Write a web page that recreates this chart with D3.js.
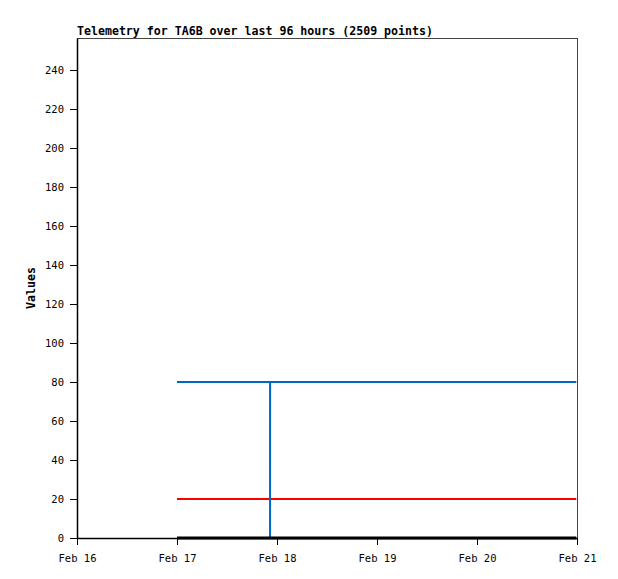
<!DOCTYPE html>
<html><head><meta charset="utf-8">
<script src="https://cdn.jsdelivr.net/npm/d3@7"></script>
<style>body{margin:0;background:#fff;} svg{display:block;}</style>
</head><body>
<script>
const title = "Telemetry for TA6B over last 96 hours (2509 points)";
const yLabel = "Values";
const xTickDates = ["2021-02-16","2021-02-17","2021-02-18","2021-02-19","2021-02-20","2021-02-21"];
const yTickValues = [0,20,40,60,80,100,120,140,160,180,200,220,240];
const blueTimes = ["2021-02-17T00:00","2021-02-17T22:20","2021-02-17T22:20","2021-02-17T22:21","2021-02-20T23:50"];
const blueValues = [80,80,0,80,80];
const redTimes = ["2021-02-17T00:00","2021-02-20T23:50"];
const redValues = [20,20];
const blackTimes = ["2021-02-17T00:00","2021-02-20T23:50"];
const blackValues = [0,0];

const W=618,H=579, L=77,R=577,T=38,B=538;
const parse = d3.isoParse;
const x = d3.scaleTime().domain([parse("2021-02-16T00:00"), parse("2021-02-21T00:00")]).range([L,R]);
const y = d3.scaleLinear().domain([0,256.4]).range([B,T]);
const svg = d3.select("body").append("svg").attr("width",W).attr("height",H);
const font = "'DejaVu Sans Mono', monospace";

svg.append("rect").attr("x",L).attr("y",T).attr("width",R-L).attr("height",B-T)
  .attr("fill","none").attr("stroke","#444").attr("stroke-width",1).attr("shape-rendering","crispEdges");

const line = d3.line().x(d=>x(d[0])).y(d=>y(d[1]));
function series(times, vals, color, w){
  svg.append("path").datum(times.map((t,i)=>[parse(t),vals[i]]))
    .attr("d",line).attr("fill","none").attr("stroke",color).attr("stroke-width",w);
}
series(redTimes, redValues, "#ff0000", 2);
series(blueTimes, blueValues, "#0066cc", 2);
series(blackTimes, blackValues, "#000000", 3);

const xa = svg.append("g").attr("transform",`translate(0,${B})`)
  .call(d3.axisBottom(x).tickValues(xTickDates.map(parse)).tickFormat(d3.timeFormat("%b %d")).tickSize(7).tickSizeOuter(0));
const ya = svg.append("g").attr("transform",`translate(${L},0)`)
  .call(d3.axisLeft(y).tickValues(yTickValues).tickSize(7).tickSizeOuter(0).tickPadding(6));
[xa,ya].forEach(a=>{
  a.selectAll("text").attr("font-family",font).attr("font-size","10.5px").attr("fill","#000");
  a.selectAll("line").attr("stroke","#000").attr("shape-rendering","crispEdges");
  a.select(".domain").attr("stroke","#000").attr("stroke-width",1.5);
});
xa.selectAll("text").attr("dy","1.3em");

svg.append("text").attr("x",L).attr("y",35).text(title)
  .attr("font-family",font).attr("font-size","11.6px").attr("font-weight","bold");
svg.append("text").attr("transform",`translate(35,${(T+B)/2}) rotate(-90)`).attr("text-anchor","middle")
  .text(yLabel).attr("font-family",font).attr("font-size","11.6px").attr("font-weight","bold");
</script>
</body></html>
